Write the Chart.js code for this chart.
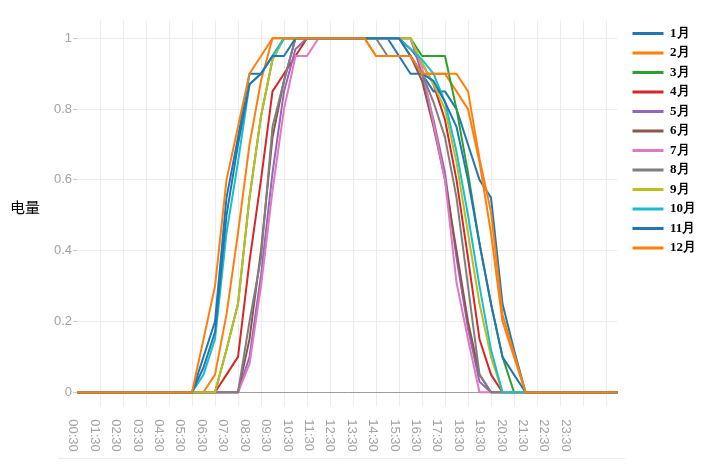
<!DOCTYPE html>
<html>
<head>
<meta charset="utf-8">
<script src="https://cdn.jsdelivr.net/npm/chart.js@4/dist/chart.umd.min.js"></script>
<style>
  html, body { margin: 0; padding: 0; background: #ffffff; }
  #wrap { width: 710px; height: 466px; }
</style>
</head>
<body>
<div id="wrap"><canvas id="c" width="710" height="466" style="width:710px;height:466px"></canvas></div>
<script>
// half-hour slots (category axis)
const slots = ["00:30","01:00","01:30","02:00","02:30","03:00","03:30","04:00","04:30","05:00","05:30","06:00",
               "06:30","07:00","07:30","08:00","08:30","09:00","09:30","10:00","10:30","11:00","11:30","12:00",
               "12:30","13:00","13:30","14:00","14:30","15:00","15:30","16:00","16:30","17:00","17:30","18:00",
               "18:30","19:00","19:30","20:00","20:30","21:00","21:30","22:00","22:30","23:00","23:30","24:00"];
// tick labels printed under the axis
const hourLabels = ["00:30","01:30","02:30","03:30","04:30","05:30","06:30","07:30","08:30","09:30","10:30","11:30",
                    "12:30","13:30","14:30","15:30","16:30","17:30","18:30","19:30","20:30","21:30","22:30","23:30"];
const yTicks = [0, 0.2, 0.4, 0.6, 0.8, 1];
const months = ["1月","2月","3月","4月","5月","6月","7月","8月","9月","10月","11月","12月"];
const colors = ["#1f77b4","#ff7f0e","#2ca02c","#d62728","#9467bd","#8c564b","#e377c2","#7f7f7f","#bcbd22","#17becf","#1f77b4","#ff7f0e"];

const jan = [0,0,0,0,0,0,0,0,0,0,0,0.1,
             0.2,0.55,0.72,0.9,0.9,0.95,1,1,1,1,1,1,
             1,1,1,1,0.95,0.9,0.9,0.85,0.85,0.8,0.7,0.6,
             0.55,0.25,0.12,0,0,0,0,0,0,0,0,0];
const feb = [0,0,0,0,0,0,0,0,0,0,0,0,
             0.05,0.22,0.45,0.7,0.88,1,1,1,1,1,1,1,
             1,1,0.95,0.95,0.95,0.95,0.9,0.9,0.9,0.85,0.8,0.65,
             0.45,0.2,0.1,0,0,0,0,0,0,0,0,0];
const mar = [0,0,0,0,0,0,0,0,0,0,0,0,
             0,0.12,0.25,0.55,0.78,0.94,1,1,1,1,1,1,
             1,1,1,1,1,1,0.95,0.95,0.95,0.8,0.62,0.42,
             0.25,0.1,0,0,0,0,0,0,0,0,0,0];
const apr = [0,0,0,0,0,0,0,0,0,0,0,0,
             0,0.05,0.1,0.37,0.6,0.85,0.9,0.95,1,1,1,1,
             1,1,1,1,1,0.97,0.93,0.87,0.77,0.6,0.38,0.15,
             0.05,0,0,0,0,0,0,0,0,0,0,0];
const may = [0,0,0,0,0,0,0,0,0,0,0,0,
             0,0,0,0.1,0.33,0.62,0.85,0.97,1,1,1,1,
             1,1,1,1,1,1,0.9,0.77,0.62,0.38,0.18,0.03,
             0,0,0,0,0,0,0,0,0,0,0,0];
const jun = [0,0,0,0,0,0,0,0,0,0,0,0,
             0,0,0,0.15,0.4,0.72,0.88,1,1,1,1,1,
             1,1,1,1,1,0.95,0.88,0.75,0.6,0.4,0.2,0.05,
             0,0,0,0,0,0,0,0,0,0,0,0];
const jul = [0,0,0,0,0,0,0,0,0,0,0,0,
             0,0,0,0.08,0.3,0.57,0.8,0.95,0.95,1,1,1,
             1,1,1,1,1,1,0.92,0.76,0.6,0.31,0.15,0,
             0,0,0,0,0,0,0,0,0,0,0,0];
const aug = [0,0,0,0,0,0,0,0,0,0,0,0,
             0,0,0,0.2,0.38,0.75,0.88,1,1,1,1,1,
             1,1,1,0.95,0.95,0.95,0.9,0.82,0.72,0.55,0.3,0.05,
             0,0,0,0,0,0,0,0,0,0,0,0];
const sep = [0,0,0,0,0,0,0,0,0,0,0,0,
             0,0.12,0.25,0.55,0.78,0.94,1,1,1,1,1,1,
             1,1,1,1,1,1,0.93,0.87,0.8,0.65,0.45,0.25,
             0.1,0,0,0,0,0,0,0,0,0,0,0];
const oct = [0,0,0,0,0,0,0,0,0,0,0,0.05,
             0.15,0.45,0.65,0.87,0.9,0.95,1,1,1,1,1,1,
             1,1,1,1,1,0.97,0.94,0.9,0.82,0.68,0.5,0.3,
             0.12,0,0,0,0,0,0,0,0,0,0,0];
const nov = [0,0,0,0,0,0,0,0,0,0,0,0.07,
             0.17,0.5,0.7,0.87,0.9,0.95,0.95,1,1,1,1,1,
             1,1,1,1,1,0.95,0.9,0.88,0.82,0.75,0.6,0.42,
             0.25,0.1,0.05,0,0,0,0,0,0,0,0,0];
const dec = [0,0,0,0,0,0,0,0,0,0,0,0.15,
             0.3,0.6,0.75,0.9,0.95,1,1,1,1,1,1,1,
             1,1,0.95,0.95,0.95,0.95,0.9,0.9,0.9,0.9,0.85,0.66,
             0.51,0.22,0.11,0,0,0,0,0,0,0,0,0];

const series = [jan, feb, mar, apr, may, jun, jul, aug, sep, oct, nov, dec];

const datasets = series.map((vals, i) => ({
  label: months[i],
  data: vals,
  borderColor: colors[i],
  backgroundColor: colors[i],
  borderWidth: 2,
  pointRadius: 0,
  pointHoverRadius: 0,
  fill: false,
  tension: 0,
  clip: false,
  borderJoinStyle: 'round',
  order: series.length - 1 - i
}));

const GRID = '#ececec';
const TICKC = '#a3a3a3';

const extras = {
  id: 'extras',
  afterDraw(chart) {
    const ctx = chart.ctx;
    const xl = chart.scales.xl;
    const area = chart.chartArea;
    ctx.save();
    // rotated hour labels, reading top to bottom
    ctx.font = '13px "Liberation Sans", Arial, sans-serif';
    ctx.fillStyle = TICKC;
    ctx.textAlign = 'left';
    ctx.textBaseline = 'middle';
    hourLabels.forEach((t, k) => {
      const px = xl.getPixelForValue(k);
      ctx.save();
      ctx.translate(px, area.bottom + 27);
      ctx.rotate(Math.PI / 2);
      ctx.fillText(t, 0, 0);
      ctx.restore();
    });
    // y-axis title, horizontal
    ctx.font = '15px "Noto Sans CJK SC", sans-serif';
    ctx.fillStyle = '#000000';
    ctx.textAlign = 'left';
    ctx.textBaseline = 'middle';
    ctx.fillText('电量', 10, chart.scales.y.getPixelForValue(0.523));
    // faint frame line at bottom
    ctx.strokeStyle = '#eeeeee';
    ctx.lineWidth = 1;
    ctx.beginPath();
    ctx.moveTo(58, 458.5);
    ctx.lineTo(625, 458.5);
    ctx.stroke();
    ctx.restore();
  }
};

new Chart(document.getElementById('c'), {
  type: 'line',
  data: { labels: slots, datasets },
  plugins: [extras],
  options: {
    responsive: false,
    animation: false,
    events: [],
    layout: { padding: { top: 20.6, right: 4, bottom: 0, left: 0 } },
    plugins: {
      tooltip: { enabled: false },
      legend: {
        position: 'right',
        align: 'start',
        labels: {
          usePointStyle: true,
          pointStyle: 'line',
          pointStyleWidth: 31,
          padding: 6.5,
          color: '#000000',
          font: { family: '"Liberation Serif", "Times New Roman", serif', size: 13, weight: 'bold' },
          generateLabels(chart) {
            const items = Chart.defaults.plugins.legend.labels.generateLabels(chart);
            items.forEach(it => { it.lineWidth = 3; it.pointStyle = 'line'; });
            items.sort((a, b) => a.datasetIndex - b.datasetIndex);
            return items;
          }
        }
      }
    },
    scales: {
      x: {
        type: 'category',
        offset: false,
        border: { display: false },
        grid: {
          color: c => (c.index % 2 === 0 && c.index > 0) ? GRID : 'rgba(0,0,0,0)',
          lineWidth: 1,
          drawTicks: true,
          tickLength: 14
        },
        ticks: { display: false, autoSkip: false },
        afterFit: s => { s.height = 73.7; }
      },
      xl: {
        type: 'linear',
        position: 'bottom',
        display: false,
        min: 0.187,
        max: 25.432
      },
      y: {
        type: 'linear',
        min: 0,
        max: 1.05,
        border: { display: false },
        afterBuildTicks: s => { s.ticks = yTicks.map(v => ({ value: v })); },
        grid: {
          color: c => (c.tick && c.tick.value === 0) ? '#9d9d9d' : GRID,
          tickColor: '#c8c8c8',
          tickLength: 4,
          drawTicks: true
        },
        ticks: {
          color: TICKC,
          padding: 1,
          font: { family: '"Liberation Sans", Arial, sans-serif', size: 13 },
          callback: v => String(v)
        },
        afterFit: s => { s.width = 77; }
      },
      yr: {
        type: 'linear',
        position: 'right',
        display: true,
        border: { display: false },
        grid: { display: false, drawTicks: false },
        ticks: { display: false },
        afterFit: s => {
          const lw = s.chart.legend ? s.chart.legend.width : 80;
          s.width = Math.max(0, 710 - 4 - lw - 617.5);
        }
      }
    }
  }
});
</script>
</body>
</html>
